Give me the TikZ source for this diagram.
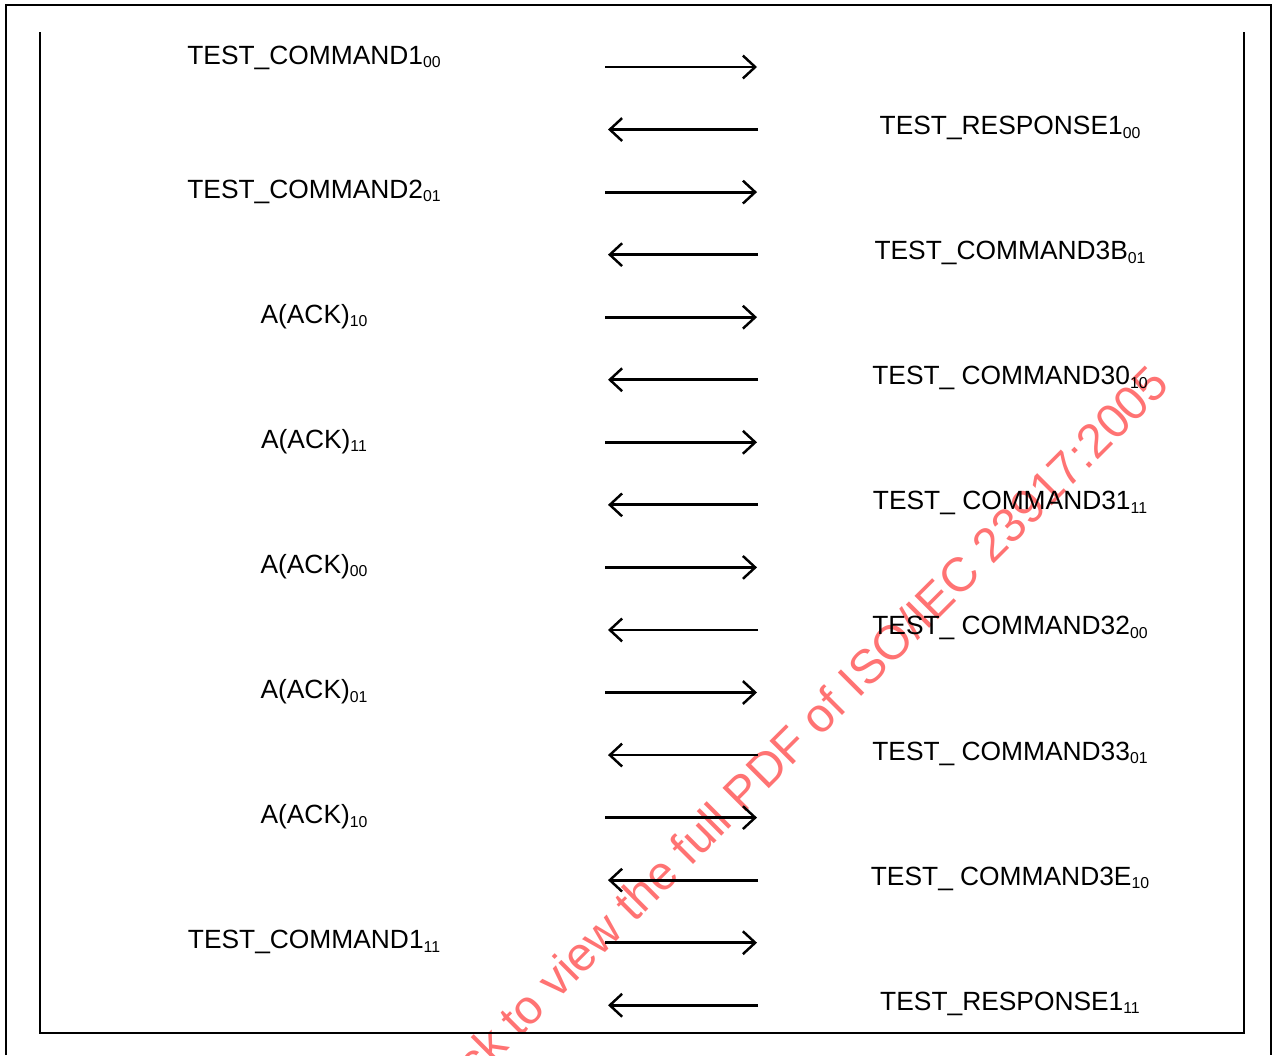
\documentclass[tikz,border=0pt]{standalone}
\usepackage{fontspec}
\setmainfont{Liberation Sans}
\usetikzlibrary{arrows.meta}

\newcommand{\idx}[1]{\raisebox{-2pt}{\fontsize{9}{10}\selectfont #1}}

\begin{document}
\begin{tikzpicture}[x=0.02cm, y=-0.02cm,
  msg/.style={line width=1.6pt, -{Straight Barb[length=7pt, width=13pt, line width=1.4pt]}},
  lbl/.style={anchor=base, inner sep=0pt, font=\fontsize{15}{18}\selectfont},
  frame/.style={line width=0.8pt}]

% Sizes
\def\rowh{62.55}
\def\firsty{67}

\useasboundingbox (0,0) rectangle (1277,1055);

% Watermark
\begin{scope}
  \clip (0,0) rectangle (1277,1055);
  \node[rotate=45, anchor=base east, inner sep=0pt, text=red!55, font=\fontsize{27.3}{30}\selectfont]
        (wm) at (1172,386) {Click to view the full PDF of ISO/IEC 23917:2005};
\end{scope}

% Frames
\draw[line width=1.5pt] (6,1055) -- (6,5) -- (1271,5) -- (1271,1055);
\draw[frame] (40,32) -- (40,1033) -- (1244,1033) -- (1244,32);

% Left to right
\foreach \i/\dy/\text in {
0/-3/TEST\_COMMAND1\idx{00},
2/6/TEST\_COMMAND2\idx{01},
4/6/A(ACK)\idx{10},
6/6/A(ACK)\idx{11},
8/6/A(ACK)\idx{00},
10/6/A(ACK)\idx{01},
12/6/A(ACK)\idx{10},
14/6/TEST\_COMMAND1\idx{11}
} {
  \pgfmathsetmacro\y{\firsty + \i*\rowh}
  \coordinate (s\i) at (605,\y);
  \coordinate (e\i) at (757,\y);
  \node[lbl] (l\i) at (314,\y+\dy) {\text};
  \draw[msg] (s\i) -- (e\i);
}

% Right to left
\foreach \i/\text in {
1/TEST\_RESPONSE1\idx{00},
3/TEST\_COMMAND3B\idx{01},
5/TEST\_ COMMAND30\idx{10},
7/TEST\_ COMMAND31\idx{11},
9/TEST\_ COMMAND32\idx{00},
11/TEST\_ COMMAND33\idx{01},
13/TEST\_ COMMAND3E\idx{10},
15/TEST\_RESPONSE1\idx{11}
} {
  \pgfmathsetmacro\y{\firsty + \i*\rowh}
  \coordinate (s\i) at (758,\y);
  \coordinate (e\i) at (608,\y);
  \node[lbl] (r\i) at (1010,\y+5) {\text};
  \draw[msg] (s\i) -- (e\i);
}

\end{tikzpicture}
\end{document}
